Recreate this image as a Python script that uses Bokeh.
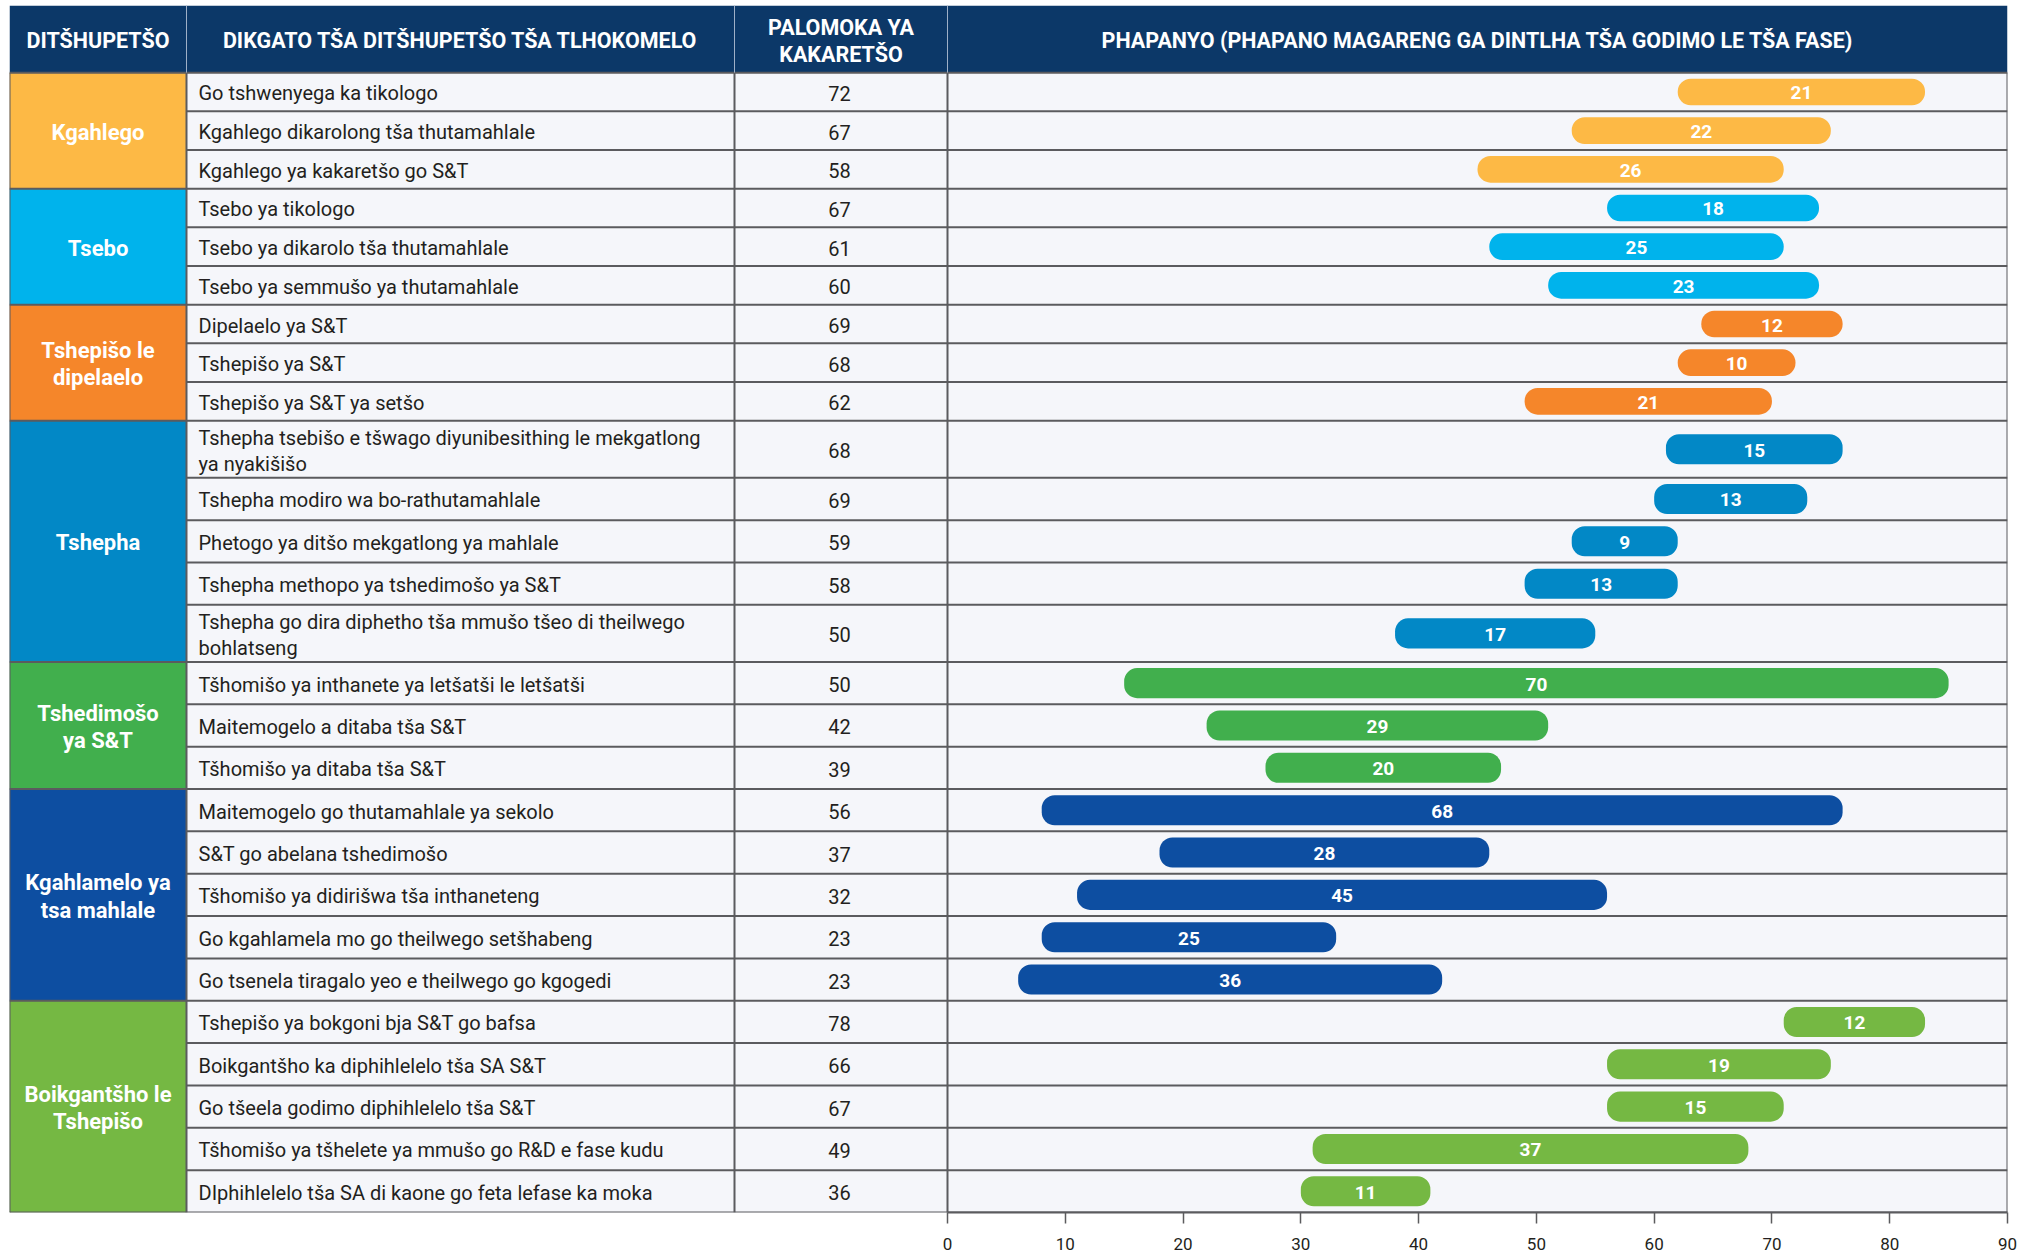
from bokeh.plotting import figure
from bokeh.models import Range1d, FixedTicker
from bokeh.core.properties import value
from bokeh.embed import file_html
from bokeh.resources import INLINE

# ---------------- data ----------------
headers = ["DITŠHUPETŠO", "DIKGATO TŠA DITŠHUPETŠO TŠA TLHOKOMELO",
           "PALOMOKA YA\nKAKARETŠO",
           "PHAPANYO (PHAPANO MAGARENG GA DINTLHA TŠA GODIMO LE TŠA FASE)"]

groups = ["Kgahlego", "Tsebo", "Tshepišo le\ndipelaelo", "Tshepha",
          "Tshedimošo\nya S&T", "Kgahlamelo ya\ntsa mahlale", "Boikgantšho le\nTshepišo"]
group_sizes = [3, 3, 3, 5, 3, 5, 5]
group_colors = ["#FDB945", "#00B3EC", "#F5862A", "#0288C6", "#41AF4D", "#0D4EA1", "#75B843"]

indicators = [
    "Go tshwenyega ka tikologo",
    "Kgahlego dikarolong tša thutamahlale",
    "Kgahlego ya kakaretšo go S&T",
    "Tsebo ya tikologo",
    "Tsebo ya dikarolo tša thutamahlale",
    "Tsebo ya semmušo ya thutamahlale",
    "Dipelaelo ya S&T",
    "Tshepišo ya S&T",
    "Tshepišo ya S&T ya setšo",
    "Tshepha tsebišo e tšwago diyunibesithing le mekgatlong\nya nyakišišo",
    "Tshepha modiro wa bo-rathutamahlale",
    "Phetogo ya ditšo mekgatlong ya mahlale",
    "Tshepha methopo ya tshedimošo ya S&T",
    "Tshepha go dira diphetho tša mmušo tšeo di theilwego\nbohlatseng",
    "Tšhomišo ya inthanete ya letšatši le letšatši",
    "Maitemogelo a ditaba tša S&T",
    "Tšhomišo ya ditaba tša S&T",
    "Maitemogelo go thutamahlale ya sekolo",
    "S&T go abelana tshedimošo",
    "Tšhomišo ya didirišwa tša inthaneteng",
    "Go kgahlamela mo go theilwego setšhabeng",
    "Go tsenela tiragalo yeo e theilwego go kgogedi",
    "Tshepišo ya bokgoni bja S&T go bafsa",
    "Boikgantšho ka diphihlelelo tša SA S&T",
    "Go tšeela godimo diphihlelelo tša S&T",
    "Tšhomišo ya tšhelete ya mmušo go R&D e fase kudu",
    "DIphihlelelo tša SA di kaone go feta lefase ka moka",
]
averages = [72, 67, 58, 67, 61, 60, 69, 68, 62, 68, 69, 59, 58, 50,
            50, 42, 39, 56, 37, 32, 23, 23, 78, 66, 67, 49, 36]
low_values = [62, 53, 45, 56, 46, 51, 64, 62, 49, 61, 60, 53, 49, 38,
              15, 22, 27, 8, 18, 11, 8, 6, 71, 56, 56, 31, 30]
gaps = [21, 22, 26, 18, 25, 23, 12, 10, 21, 15, 13, 9, 13, 17,
        70, 29, 20, 68, 28, 45, 25, 36, 12, 19, 15, 37, 11]
x_ticks = [0, 10, 20, 30, 40, 50, 60, 70, 80, 90]

# ---------------- layout / style ----------------
FONT = "Roboto"
HEADER_BG = "#0C3868"
ROW_BG = "#F5F6FA"
LINE = "#5B5B5E"
TEXT = "#231F20"

PX_LEFT, PX_C1, PX_C2, PX_ZERO, PX_RIGHT = 9, 186, 734, 947, 2007
PX_PER_UNIT = (PX_RIGHT - PX_ZERO) / 90.0


def px2x(px):
    return (px - PX_ZERO) / PX_PER_UNIT


HEADER_TOP, HEADER_BOTTOM = 5, 72
row_heights = [38.6] * 9 + [57, 42.27, 42.27, 42.27, 57] + [42.27] * 13
tops, bottoms, centers = [], [], []
y = HEADER_BOTTOM
for h in row_heights:
    tops.append(y)
    bottoms.append(y + h)
    centers.append(y + h / 2)
    y += h
TABLE_BOTTOM = y
TXT_DY = 1.5  # small downward nudge for text baseline

row_color = []
group_first = []
for gi, n in enumerate(group_sizes):
    for k in range(n):
        row_color.append(group_colors[gi])
        group_first.append(k == 0)

X0, X1 = px2x(PX_LEFT), 90

p = figure(width=2021, height=1252, x_range=Range1d(X0, X1),
           y_range=Range1d(TABLE_BOTTOM, HEADER_TOP),
           output_backend="svg", toolbar_location=None,
           y_axis_location=None, x_axis_location="below",
           min_border_left=9, min_border_right=14, min_border_top=5,
           min_border_bottom=0, background_fill_color="white",
           border_fill_color="white", outline_line_color=None)
p.xgrid.visible = False
p.ygrid.visible = False

xl, xc1, xc2 = px2x(PX_LEFT), px2x(PX_C1), px2x(PX_C2)

# backgrounds
p.quad(left=[xc1], right=[X1], top=[HEADER_BOTTOM], bottom=[TABLE_BOTTOM],
       fill_color=ROW_BG, line_color=None)
p.quad(left=[xl], right=[X1], top=[HEADER_TOP], bottom=[HEADER_BOTTOM],
       fill_color=HEADER_BG, line_color=None)

# group cells
g_top, g_bot, g_mid = [], [], []
i = 0
for n in group_sizes:
    g_top.append(tops[i])
    g_bot.append(bottoms[i + n - 1])
    g_mid.append((tops[i] + bottoms[i + n - 1]) / 2 + TXT_DY)
    i += n
p.quad(left=[xl] * len(groups), right=[xc1] * len(groups), top=g_top, bottom=g_bot,
       fill_color=group_colors, line_color=None)

# horizontal lines
hx0, hx1, hy = [], [], []
for r in range(len(indicators)):
    hx0.append(xl if group_first[r] else xc1)
    hx1.append(X1)
    hy.append(tops[r])
hx0.append(xl); hx1.append(X1); hy.append(TABLE_BOTTOM)
p.segment(x0=hx0, x1=hx1, y0=hy, y1=hy, line_color=LINE, line_width=2)

# vertical lines
vx = [xl, xc1, xc2, 0, X1]
p.segment(x0=vx, x1=vx, y0=[HEADER_BOTTOM] * 5, y1=[TABLE_BOTTOM] * 5,
          line_color=LINE, line_width=2)
hv = [xc1, xc2, 0]
p.segment(x0=hv, x1=hv, y0=[HEADER_TOP] * 3, y1=[HEADER_BOTTOM] * 3,
          line_color="#9FB0C8", line_width=1)

# bars
highs = [lo + g for lo, g in zip(low_values, gaps)]
bar_h = [min(h - 12, 30) for h in row_heights]
p.hbar(y=centers, left=low_values, right=highs, height=bar_h,
       fill_color=row_color, line_color=None, border_radius=13)
p.text(x=[(lo + hi) / 2 for lo, hi in zip(low_values, highs)],
       y=[c + 1 for c in centers],
       text=[str(g) for g in gaps], text_align="center", text_baseline="middle",
       text_font=value(FONT), text_font_size="19px", text_font_style="bold",
       text_color="white")

# table texts
row_text_y = [c + TXT_DY for c in centers]
p.text(x=[px2x(198)] * len(indicators), y=row_text_y, text=indicators,
       text_align="left", text_baseline="middle", text_font=value(FONT),
       text_font_size="20px", text_color=TEXT, text_line_height=1.1)
p.text(x=[px2x(839)] * len(indicators), y=row_text_y, text=[str(a) for a in averages],
       text_align="center", text_baseline="middle", text_font=value(FONT),
       text_font_size="20px", text_color=TEXT)
p.text(x=[(xl + xc1) / 2] * len(groups), y=g_mid, text=groups,
       text_align="center", text_baseline="middle", text_font=value(FONT),
       text_font_size="22px", text_font_style="bold", text_color="white",
       text_line_height=1.1)

# headers
hmid = (HEADER_TOP + HEADER_BOTTOM) / 2 + 1.5
p.text(x=[(xl + xc1) / 2, (xc1 + xc2) / 2, xc2 / 2, X1 / 2], y=[hmid] * 4,
       text=headers, text_align="center", text_baseline="middle",
       text_font=value(FONT), text_font_size="21.5px", text_font_style="bold",
       text_color="white", text_line_height=1.08)

# axis
ax = p.xaxis[0]
ax.ticker = FixedTicker(ticks=x_ticks)
ax.bounds = (0, 90)
ax.axis_line_color = LINE
ax.axis_line_width = 2
ax.major_tick_line_color = LINE
ax.major_tick_line_width = 1.5
ax.major_tick_out = 11
ax.major_tick_in = 0
ax.minor_tick_line_color = None
ax.major_label_standoff = 14
ax.major_label_text_font = FONT
ax.major_label_text_font_size = "17px"
ax.major_label_text_color = TEXT

open("out.html", "w").write(file_html(p, INLINE))
